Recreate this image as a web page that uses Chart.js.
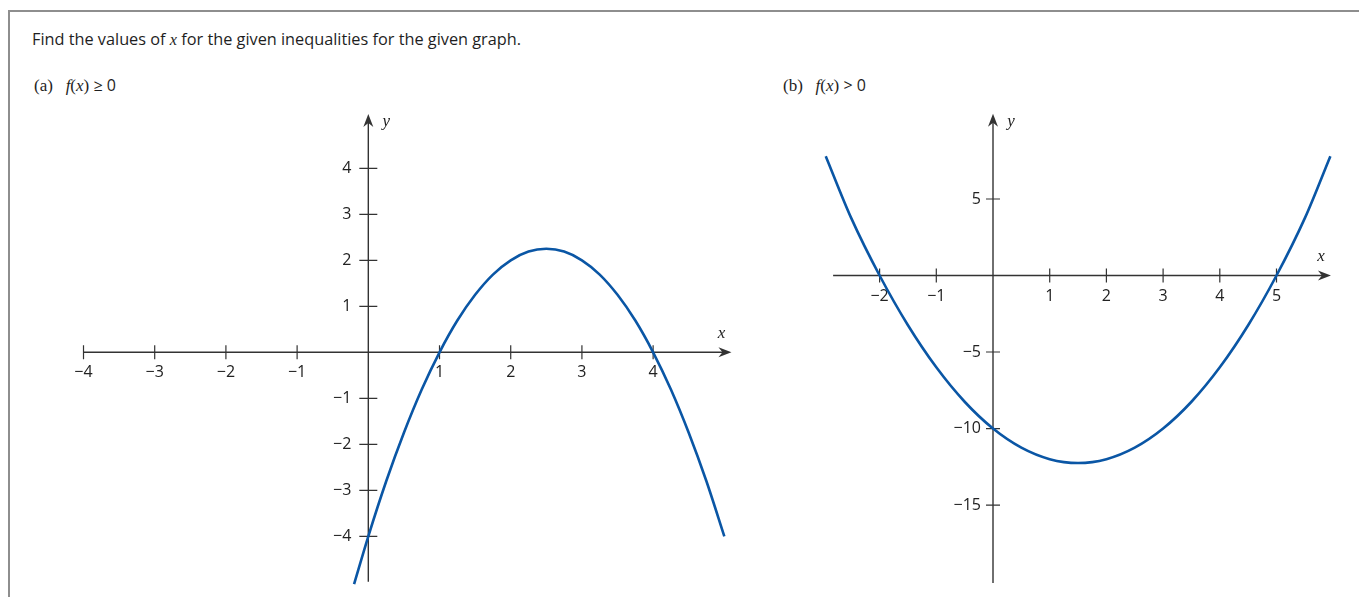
<!DOCTYPE html>
<html>
<head>
<meta charset="utf-8">
<script src="https://cdn.jsdelivr.net/npm/chart.js@4/dist/chart.umd.min.js"></script>
<style>
  body { margin: 0; background: #fff; width: 1359px; height: 597px; overflow: hidden; position: relative; }
  #frame { position: absolute; left: 8px; top: 10px; width: 1400px; height: 700px;
           border-top: 2px solid #8e8e8e; border-left: 2px solid #8e8e8e; }
  .title { position: absolute; left: 32px; top: 31px; font: 16.3px "Open Sans", sans-serif; color: #1e1e1e; line-height: 17px; white-space: nowrap; }
  .part { position: absolute; top: 74px; font: 17px "Liberation Serif", serif; color: #1e1e1e; line-height: 18px; white-space: nowrap; }
  .part .sans { font: 16px "Open Sans", sans-serif; }
  i { font-family: "Liberation Serif", serif; }
  canvas { position: absolute; }
</style>
</head>
<body>
<div id="frame"></div>
<div class="title">Find the values of <i>x</i> for the given inequalities for the given graph.</div>
<div class="part" style="left:34px">(a)&nbsp;&nbsp; <i>f</i>(<i>x</i>) <span class="sans">≥ 0</span></div>
<div class="part" style="left:783px">(b)&nbsp;&nbsp; <i>f</i>(<i>x</i>) <span class="sans">&gt; 0</span></div>

<canvas id="chartA" width="720" height="497" style="left:40px; top:100px"></canvas>
<canvas id="chartB" width="559" height="497" style="left:800px; top:100px"></canvas>

<script>
// (a) curve, points
const curveAX = [-0.2, 0, 0.25, 0.5, 0.75, 1, 1.25, 1.5, 1.75, 2, 2.25, 2.5, 2.75, 3, 3.25, 3.5, 3.75, 4, 4.25, 4.5, 4.75, 5];
const curveAY = [-5.04, -4, -2.81, -1.75, -0.81, 0, 0.69, 1.25, 1.69, 2, 2.19, 2.25, 2.19, 2, 1.69, 1.25, 0.69, 0, -0.81, -1.75, -2.81, -4];

// (b) curve
const curveBX = [-2.95, -2.5, -2, -1.5, -1, -0.5, 0, 0.5, 1, 1.5, 2, 2.5, 3, 3.5, 4, 4.5, 5, 5.5, 5.95];
const curveBY = [7.8, 3.75, 0, -3.25, -6, -8.25, -10, -11.25, -12, -12.25, -12, -11.25, -10, -8.25, -6, -3.25, 0, 3.75, 7.8];

// tick labels
const ticksAX = [-4, -3, -2, -1, 1, 2, 3, 4];
const ticksAY = [-4, -3, -2, -1, 1, 2, 3, 4];
const ticksBX = [-2, -1, 1, 2, 3, 4, 5];
const ticksBY = [-15, -10, -5, 5];

const AXIS = '#333';
const CURVE = '#0a56a5';

function arrowHead(ctx, x, y, dx, dy) {
  // stealth style arrow, tip at x,y pointing along dx,dy
  const len = 13, half = 5, notch = 9;
  const px = -dy, py = dx;
  ctx.beginPath();
  ctx.moveTo(x, y);
  ctx.lineTo(x - dx * len + px * half, y - dy * len + py * half);
  ctx.lineTo(x - dx * notch, y - dy * notch);
  ctx.lineTo(x - dx * len - px * half, y - dy * len - py * half);
  ctx.closePath();
  ctx.fill();
}

const axesPlugin = {
  id: 'axes',
  beforeDatasetsDraw(chart, args, opts) {
    const ctx = chart.ctx;
    const sx = chart.scales.x, sy = chart.scales.y;
    const x0 = sx.getPixelForValue(0), y0 = sy.getPixelForValue(0);
    const xa = sx.getPixelForValue(opts.xFrom), xb = sx.getPixelForValue(opts.xTo);
    const ya = sy.getPixelForValue(opts.yFrom), yb = sy.getPixelForValue(opts.yTo);
    ctx.save();
    ctx.strokeStyle = AXIS;
    ctx.fillStyle = AXIS;
    ctx.lineWidth = 1.4;

    ctx.beginPath();
    ctx.moveTo(xa, y0); ctx.lineTo(xb - 8, y0);
    ctx.moveTo(x0, ya); ctx.lineTo(x0, yb + 8);
    ctx.stroke();
    arrowHead(ctx, xb, y0, 1, 0);
    arrowHead(ctx, x0, yb, 0, -1);

    // ticks
    ctx.lineWidth = 1.2;
    ctx.beginPath();
    opts.xTicks.forEach(v => {
      const p = sx.getPixelForValue(v);
      ctx.moveTo(p, y0 - opts.xTickLen); ctx.lineTo(p, y0 + opts.xTickLen);
    });
    opts.yTicks.forEach(v => {
      const p = sy.getPixelForValue(v);
      ctx.moveTo(x0 - opts.yTickLen, p); ctx.lineTo(x0 + opts.yTickLen, p);
    });
    ctx.stroke();

    ctx.font = '16px "Open Sans", sans-serif';
    ctx.fillStyle = '#222';
    ctx.textAlign = 'center';
    ctx.textBaseline = 'middle';
    opts.xTicks.forEach(v => {
      ctx.fillText(String(v).replace('-', '\u2212'), sx.getPixelForValue(v), y0 + opts.xLabelGap);
    });
    ctx.textAlign = 'right';
    opts.yTicks.forEach(v => {
      ctx.fillText(String(v).replace('-', '\u2212'), x0 - opts.yLabelGap, sy.getPixelForValue(v));
    });

    ctx.font = 'italic 17px "Liberation Serif", serif';
    ctx.textAlign = 'center';
    ctx.fillText('x', xb - 10, y0 - 19);
    ctx.fillText('y', x0 + 18, yb + 8);
    ctx.restore();
  }
};

function makeChart(id, xs, ys, xMin, xMax, yMin, yMax, axes) {
  return new Chart(document.getElementById(id), {
    type: 'scatter',
    data: {
      datasets: [{
        data: xs.map((x, i) => ({ x: x, y: ys[i] })),
        showLine: true,
        borderColor: CURVE,
        borderWidth: 2.6,
        pointRadius: 0,
        tension: 0.3,
        clip: false
      }]
    },
    options: {
      responsive: false,
      animation: false,
      layout: { padding: 0 },
      plugins: { legend: { display: false }, tooltip: { enabled: false }, axes: axes },
      scales: {
        x: { type: 'linear', display: false, min: xMin, max: xMax },
        y: { type: 'linear', display: false, min: yMin, max: yMax }
      }
    },
    plugins: [axesPlugin]
  });
}

makeChart('chartA', curveAX, curveAY, -4.611, 5.501, -5.32, 5.485, {
  xFrom: -4, xTo: 5.1, yFrom: -4.99, yTo: 5.18,
  xTicks: ticksAX, yTicks: ticksAY, xTickLen: 7, yTickLen: 9,
  xLabelGap: 20, yLabelGap: 17
});

makeChart('chartB', curveBX, curveBY, -3.404, 6.455, -21.01, 11.47, {
  xFrom: -2.82, xTo: 5.96, yFrom: -20.1, yTo: 10.57,
  xTicks: ticksBX, yTicks: ticksBY, xTickLen: 7, yTickLen: 7,
  xLabelGap: 21, yLabelGap: 12
});
</script>
</body>
</html>
